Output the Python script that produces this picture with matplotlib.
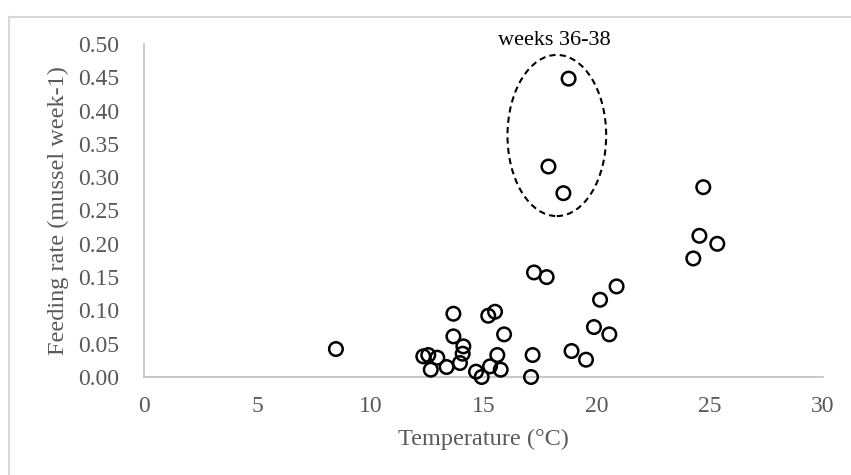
import matplotlib
matplotlib.use("Agg")
import matplotlib.pyplot as plt
from matplotlib.patches import Ellipse
from matplotlib.lines import Line2D

plt.rcParams['font.family'] = ['Liberation Serif', 'DejaVu Serif']

# temperature (C) and feeding rate (mussel week-1)
temp = [8.48, 13.67, 13.67, 15.21, 15.51, 15.91, 14.11, 14.08, 13.96, 12.34,
        12.56, 12.96, 12.67, 13.37, 14.67, 14.92, 15.29, 15.61, 15.76, 17.17,
        17.10, 17.23, 17.79, 20.88, 20.15, 19.88, 20.56, 18.89, 19.53, 24.27,
        24.71, 24.54, 25.33, 18.76, 17.87, 18.53]
rate = [0.042, 0.095, 0.061, 0.092, 0.098, 0.064, 0.046, 0.035, 0.021, 0.031,
        0.033, 0.029, 0.011, 0.015, 0.008, 0.0, 0.016, 0.033, 0.011, 0.033,
        0.0, 0.157, 0.150, 0.136, 0.116, 0.075, 0.064, 0.039, 0.026, 0.178,
        0.285, 0.212, 0.200, 0.448, 0.316, 0.276]

xticks = [0, 5, 10, 15, 20, 25, 30]
yticks = [0.0, 0.05, 0.10, 0.15, 0.20, 0.25, 0.30, 0.35, 0.40, 0.45, 0.50]

grey = '#595959'

fig = plt.figure(figsize=(8.51, 4.75), dpi=100)
ax = fig.add_axes([0.1692, 0.2063, 0.7979, 0.7011])

ax.scatter(temp, rate, s=95, facecolors='none', edgecolors='black',
           linewidths=1.8, clip_on=False, zorder=3)

# dashed ellipse round weeks 36-38
ell = Ellipse((18.24, 0.3626), 4.36, 0.242, fill=False, ls=(0, (3, 2)),
              lw=1.5, edgecolor='black')
ax.add_patch(ell)
ax.text(18.12, 0.505, 'weeks 36-38', ha='center', va='center', fontsize=16,
        color='black')

ax.set_xlim(0, 30)
ax.set_ylim(0, 0.5)
ax.set_xticks(xticks)
ax.set_yticks(yticks)
ax.set_xticklabels([str(t) for t in xticks])
ax.set_yticklabels(['%.2f' % t for t in yticks])
ax.tick_params(length=0, labelsize=17, colors=grey)
ax.tick_params(axis='y', pad=18)
ax.tick_params(axis='x', pad=14)

for s in ['top', 'right']:
    ax.spines[s].set_visible(False)
for s in ['left', 'bottom']:
    ax.spines[s].set_color('#bfbfbf')
    ax.spines[s].set_linewidth(1.2)

ax.set_xlabel('Temperature (°C)', fontsize=17.5, color=grey)
ax.set_ylabel('Feeding rate (mussel week-1)', fontsize=17.5, color=grey)
ax.xaxis.set_label_coords(0.5, -0.155)
ax.yaxis.set_label_coords(-0.11, 0.5)

# outer chart border (only left and top show in the crop)
fig.add_artist(Line2D([9 / 851, 1.0], [1 - 17 / 475] * 2, color='#d9d9d9', lw=1.5))
fig.add_artist(Line2D([9 / 851] * 2, [0.0, 1 - 17 / 475], color='#d9d9d9', lw=1.5))

fig.savefig('out.png', dpi=100)
